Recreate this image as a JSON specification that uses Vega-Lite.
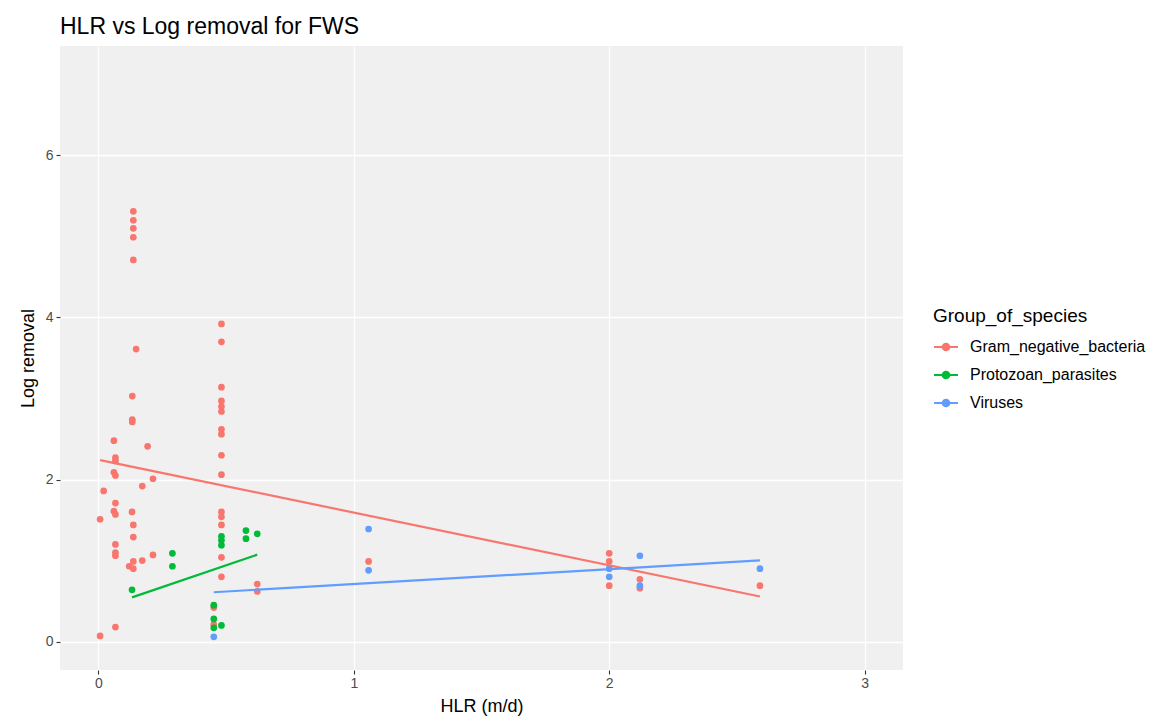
{
  "$schema": "https://vega.github.io/schema/vega-lite/v6.json",
  "autosize": {"type": "none"},
  "width": 843,
  "height": 624,
  "padding": {"left": 60, "top": 46, "right": 255, "bottom": 52},
  "background": "white",
  "title": {
    "text": "HLR vs Log removal for FWS",
    "anchor": "start",
    "frame": "group",
    "font": "Liberation Sans",
    "fontSize": 23,
    "fontWeight": "normal",
    "color": "black",
    "baseline": "alphabetic",
    "offset": 11,
    "dy": 22
  },
  "config": {
    "view": {"fill": "#F0F0F0", "stroke": null},
    "font": "Liberation Sans",
    "axis": {
      "grid": true,
      "gridColor": "white",
      "gridWidth": 1.3,
      "domain": false,
      "ticks": true,
      "tickColor": "#333333",
      "tickSize": 4,
      "tickWidth": 1.1,
      "labelColor": "#4D4D4D",
      "labelFont": "Liberation Sans",
      "labelFontSize": 14,
      "titleFont": "Liberation Sans",
      "titleFontSize": 18,
      "titleFontWeight": "normal",
      "titleColor": "black"
    }
  },
  "data": {
    "values": [
      {"HLR": 0.137, "LogRemoval": 5.31, "Group": "Gram_negative_bacteria"},
      {"HLR": 0.137, "LogRemoval": 5.20, "Group": "Gram_negative_bacteria"},
      {"HLR": 0.137, "LogRemoval": 5.10, "Group": "Gram_negative_bacteria"},
      {"HLR": 0.137, "LogRemoval": 4.99, "Group": "Gram_negative_bacteria"},
      {"HLR": 0.137, "LogRemoval": 4.71, "Group": "Gram_negative_bacteria"},
      {"HLR": 0.148, "LogRemoval": 3.61, "Group": "Gram_negative_bacteria"},
      {"HLR": 0.133, "LogRemoval": 3.03, "Group": "Gram_negative_bacteria"},
      {"HLR": 0.133, "LogRemoval": 2.74, "Group": "Gram_negative_bacteria"},
      {"HLR": 0.133, "LogRemoval": 2.71, "Group": "Gram_negative_bacteria"},
      {"HLR": 0.061, "LogRemoval": 2.48, "Group": "Gram_negative_bacteria"},
      {"HLR": 0.193, "LogRemoval": 2.41, "Group": "Gram_negative_bacteria"},
      {"HLR": 0.067, "LogRemoval": 2.27, "Group": "Gram_negative_bacteria"},
      {"HLR": 0.067, "LogRemoval": 2.23, "Group": "Gram_negative_bacteria"},
      {"HLR": 0.061, "LogRemoval": 2.09, "Group": "Gram_negative_bacteria"},
      {"HLR": 0.067, "LogRemoval": 2.05, "Group": "Gram_negative_bacteria"},
      {"HLR": 0.214, "LogRemoval": 2.01, "Group": "Gram_negative_bacteria"},
      {"HLR": 0.172, "LogRemoval": 1.92, "Group": "Gram_negative_bacteria"},
      {"HLR": 0.021, "LogRemoval": 1.86, "Group": "Gram_negative_bacteria"},
      {"HLR": 0.067, "LogRemoval": 1.71, "Group": "Gram_negative_bacteria"},
      {"HLR": 0.061, "LogRemoval": 1.61, "Group": "Gram_negative_bacteria"},
      {"HLR": 0.067, "LogRemoval": 1.57, "Group": "Gram_negative_bacteria"},
      {"HLR": 0.132, "LogRemoval": 1.60, "Group": "Gram_negative_bacteria"},
      {"HLR": 0.007, "LogRemoval": 1.51, "Group": "Gram_negative_bacteria"},
      {"HLR": 0.137, "LogRemoval": 1.44, "Group": "Gram_negative_bacteria"},
      {"HLR": 0.137, "LogRemoval": 1.29, "Group": "Gram_negative_bacteria"},
      {"HLR": 0.067, "LogRemoval": 1.20, "Group": "Gram_negative_bacteria"},
      {"HLR": 0.067, "LogRemoval": 1.10, "Group": "Gram_negative_bacteria"},
      {"HLR": 0.067, "LogRemoval": 1.06, "Group": "Gram_negative_bacteria"},
      {"HLR": 0.214, "LogRemoval": 1.07, "Group": "Gram_negative_bacteria"},
      {"HLR": 0.137, "LogRemoval": 0.99, "Group": "Gram_negative_bacteria"},
      {"HLR": 0.172, "LogRemoval": 1.00, "Group": "Gram_negative_bacteria"},
      {"HLR": 0.121, "LogRemoval": 0.93, "Group": "Gram_negative_bacteria"},
      {"HLR": 0.137, "LogRemoval": 0.90, "Group": "Gram_negative_bacteria"},
      {"HLR": 0.067, "LogRemoval": 0.18, "Group": "Gram_negative_bacteria"},
      {"HLR": 0.007, "LogRemoval": 0.07, "Group": "Gram_negative_bacteria"},
      {"HLR": 0.482, "LogRemoval": 3.92, "Group": "Gram_negative_bacteria"},
      {"HLR": 0.482, "LogRemoval": 3.70, "Group": "Gram_negative_bacteria"},
      {"HLR": 0.482, "LogRemoval": 3.14, "Group": "Gram_negative_bacteria"},
      {"HLR": 0.482, "LogRemoval": 2.97, "Group": "Gram_negative_bacteria"},
      {"HLR": 0.482, "LogRemoval": 2.90, "Group": "Gram_negative_bacteria"},
      {"HLR": 0.482, "LogRemoval": 2.84, "Group": "Gram_negative_bacteria"},
      {"HLR": 0.482, "LogRemoval": 2.62, "Group": "Gram_negative_bacteria"},
      {"HLR": 0.482, "LogRemoval": 2.56, "Group": "Gram_negative_bacteria"},
      {"HLR": 0.482, "LogRemoval": 2.30, "Group": "Gram_negative_bacteria"},
      {"HLR": 0.482, "LogRemoval": 2.06, "Group": "Gram_negative_bacteria"},
      {"HLR": 0.482, "LogRemoval": 1.60, "Group": "Gram_negative_bacteria"},
      {"HLR": 0.482, "LogRemoval": 1.54, "Group": "Gram_negative_bacteria"},
      {"HLR": 0.482, "LogRemoval": 1.44, "Group": "Gram_negative_bacteria"},
      {"HLR": 0.482, "LogRemoval": 1.04, "Group": "Gram_negative_bacteria"},
      {"HLR": 0.482, "LogRemoval": 0.80, "Group": "Gram_negative_bacteria"},
      {"HLR": 0.622, "LogRemoval": 0.71, "Group": "Gram_negative_bacteria"},
      {"HLR": 0.622, "LogRemoval": 0.62, "Group": "Gram_negative_bacteria"},
      {"HLR": 0.452, "LogRemoval": 0.42, "Group": "Gram_negative_bacteria"},
      {"HLR": 0.452, "LogRemoval": 0.21, "Group": "Gram_negative_bacteria"},
      {"HLR": 1.058, "LogRemoval": 0.99, "Group": "Gram_negative_bacteria"},
      {"HLR": 2.0, "LogRemoval": 1.09, "Group": "Gram_negative_bacteria"},
      {"HLR": 2.0, "LogRemoval": 0.99, "Group": "Gram_negative_bacteria"},
      {"HLR": 2.0, "LogRemoval": 0.69, "Group": "Gram_negative_bacteria"},
      {"HLR": 2.12, "LogRemoval": 0.77, "Group": "Gram_negative_bacteria"},
      {"HLR": 2.12, "LogRemoval": 0.66, "Group": "Gram_negative_bacteria"},
      {"HLR": 2.59, "LogRemoval": 0.69, "Group": "Gram_negative_bacteria"},
      {"HLR": 0.290, "LogRemoval": 1.09, "Group": "Protozoan_parasites"},
      {"HLR": 0.290, "LogRemoval": 0.93, "Group": "Protozoan_parasites"},
      {"HLR": 0.132, "LogRemoval": 0.64, "Group": "Protozoan_parasites"},
      {"HLR": 0.482, "LogRemoval": 1.30, "Group": "Protozoan_parasites"},
      {"HLR": 0.482, "LogRemoval": 1.25, "Group": "Protozoan_parasites"},
      {"HLR": 0.482, "LogRemoval": 1.19, "Group": "Protozoan_parasites"},
      {"HLR": 0.482, "LogRemoval": 0.20, "Group": "Protozoan_parasites"},
      {"HLR": 0.578, "LogRemoval": 1.37, "Group": "Protozoan_parasites"},
      {"HLR": 0.578, "LogRemoval": 1.27, "Group": "Protozoan_parasites"},
      {"HLR": 0.622, "LogRemoval": 1.33, "Group": "Protozoan_parasites"},
      {"HLR": 0.452, "LogRemoval": 0.45, "Group": "Protozoan_parasites"},
      {"HLR": 0.452, "LogRemoval": 0.28, "Group": "Protozoan_parasites"},
      {"HLR": 0.452, "LogRemoval": 0.17, "Group": "Protozoan_parasites"},
      {"HLR": 0.452, "LogRemoval": 0.06, "Group": "Viruses"},
      {"HLR": 1.058, "LogRemoval": 1.39, "Group": "Viruses"},
      {"HLR": 1.058, "LogRemoval": 0.88, "Group": "Viruses"},
      {"HLR": 2.0, "LogRemoval": 0.90, "Group": "Viruses"},
      {"HLR": 2.0, "LogRemoval": 0.80, "Group": "Viruses"},
      {"HLR": 2.12, "LogRemoval": 1.06, "Group": "Viruses"},
      {"HLR": 2.12, "LogRemoval": 0.69, "Group": "Viruses"},
      {"HLR": 2.59, "LogRemoval": 0.90, "Group": "Viruses"}
    ]
  },
  "encoding": {
    "x": {
      "field": "HLR",
      "type": "quantitative",
      "scale": {"domain": [-0.15, 3.15], "nice": false, "zero": false},
      "axis": {"title": "HLR (m/d)", "values": [0, 1, 2, 3], "format": "d", "labelPadding": 2, "titlePadding": 7}
    },
    "y": {
      "field": "LogRemoval",
      "type": "quantitative",
      "scale": {"domain": [-0.35, 7.35], "nice": false, "zero": false},
      "axis": {"title": "Log removal", "values": [0, 2, 4, 6], "format": "d", "labelPadding": 3, "titlePadding": 8}
    },
    "color": {
      "field": "Group",
      "type": "nominal",
      "scale": {
        "domain": ["Gram_negative_bacteria", "Protozoan_parasites", "Viruses"],
        "range": ["#F8766D", "#00BA38", "#619CFF"]
      },
      "legend": {
        "title": "Group_of_species",
        "orient": "none",
        "legendX": 873,
        "legendY": 261,
        "titleFont": "Liberation Sans",
        "titleFontSize": 19,
        "titleFontWeight": "normal",
        "titleColor": "black",
        "titleBaseline": "top",
        "titlePadding": 8,
        "labelFont": "Liberation Sans",
        "labelFontSize": 16,
        "labelColor": "black",
        "labelOffset": 11,
        "labelLimit": 300,
        "rowPadding": 7,
        "symbolType": "M-1,0H1M-0.28,0A0.28,0.28 0 1,1 0.28,0A0.28,0.28 0 1,1 -0.28,0Z",
        "symbolSize": 576,
        "symbolStrokeWidth": 2,
        "symbolOpacity": 1,
        "encode": {
          "symbols": {
            "update": {
              "fill": {"scale": "color", "field": "value"},
              "stroke": {"scale": "color", "field": "value"},
              "opacity": {"value": 1}
            }
          }
        }
      }
    }
  },
  "layer": [
    {
      "mark": {"type": "point", "filled": true, "size": 45, "opacity": 1}
    },
    {
      "transform": [
        {"regression": "LogRemoval", "on": "HLR", "groupby": ["Group"]}
      ],
      "mark": {"type": "line", "strokeWidth": 2.2}
    }
  ]
}
